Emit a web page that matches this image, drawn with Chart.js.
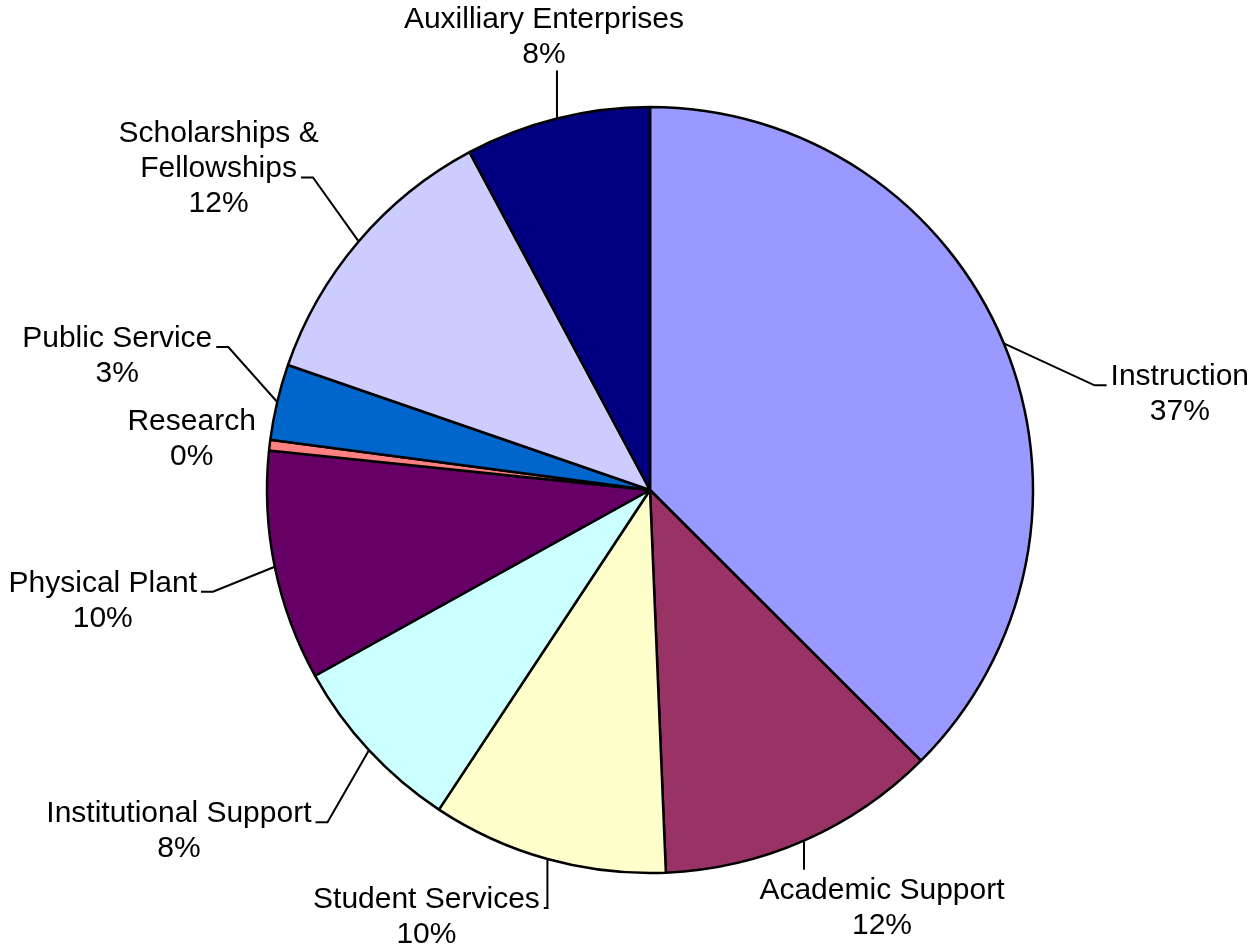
<!DOCTYPE html>
<html><head><meta charset="utf-8">
<script src="https://cdn.jsdelivr.net/npm/chart.js@4.4.1/dist/chart.umd.min.js"></script>
<style>html,body{margin:0;padding:0;background:#fff;} #wrap{width:1254px;height:949px;position:relative;}</style>
</head><body><div id="wrap"><canvas id="c" width="1254" height="949"></canvas></div>
<script>
const categories = ['Instruction', 'Academic Support', 'Student Services', 'Institutional Support', 'Physical Plant', 'Research', 'Public Service', 'Scholarships & Fellowships', 'Auxilliary Enterprises'];
const labelLines = [['Instruction'], ['Academic Support'], ['Student Services'], ['Institutional Support'], ['Physical Plant'], ['Research'], ['Public Service'], ['Scholarships &', 'Fellowships'], ['Auxilliary Enterprises']];
const shares = [37.49, 11.85, 9.95, 7.65, 9.7, 0.45, 3.2, 11.9, 7.81];
const colors = ['#9999FF', '#993366', '#FFFFCC', '#CCFFFF', '#660066', '#FF8080', '#0066CC', '#CCCCFF', '#000080'];
// label placement: offset of each text block (center x, first baseline) from its slice's rim midpoint
const labelOffsets = [[176, 42], [78, 58], [-121, 49], [-190, 72], [-172, 25], [-78, -15], [-160, -55], [-140, -99], [-13, -90]];

const labelPlugin = {
  id: 'pieLabels',
  afterDatasetsDraw(chart) {
    const ctx = chart.ctx;
    const meta = chart.getDatasetMeta(0);
    const data = chart.data.datasets[0].data;
    const total = data.reduce((a, b) => a + b, 0);
    const FONT = 30, LH = 35, ASC = 22;
    ctx.save();
    ctx.font = FONT + 'px "Liberation Sans", Arial, sans-serif';
    ctx.fillStyle = '#000'; ctx.strokeStyle = '#000'; ctx.lineWidth = 2;
    meta.data.forEach((arc, i) => {
      const p = arc.getProps(['x', 'y', 'startAngle', 'endAngle', 'outerRadius'], true);
      const mid = (p.startAngle + p.endAngle) / 2;
      const rx = p.x + Math.cos(mid) * p.outerRadius;
      const ry = p.y + Math.sin(mid) * p.outerRadius;
      const lines = labelLines[i].concat([Math.round(data[i] / total * 100) + '%']);
      const cx = rx + labelOffsets[i][0];
      const b1 = ry + labelOffsets[i][1];
      const widths = lines.map(t => ctx.measureText(t).width);
      const w = Math.max(...widths);
      const left = cx - w / 2, right = cx + w / 2, top = b1 - ASC, bottom = b1 + LH * (lines.length - 1);
      const dx = rx < left ? left - rx : (rx > right ? rx - right : 0);
      const dy = ry < top ? top - ry : (ry > bottom ? ry - bottom : 0);
      if (Math.hypot(dx, dy) > 20) {
        ctx.beginPath();
        if (rx >= left && rx <= right) {
          const ey = ry < top ? top - 7 : bottom + 7;
          ctx.moveTo(rx, ry); ctx.lineTo(rx, ey);
        } else {
          const k = lines.length - 2;
          const ay = b1 + LH * k;
          const side = rx < left ? -1 : 1;
          const ax = side < 0 ? cx - widths[k] / 2 - 4 : cx + widths[k] / 2 + 4;
          const tx = ax + side * Math.min(12, Math.abs(rx - ax));
          ctx.moveTo(ax, ay); ctx.lineTo(tx, ay); ctx.lineTo(rx, ry);
        }
        ctx.stroke();
      }
      ctx.textAlign = 'center'; ctx.textBaseline = 'alphabetic';
      lines.forEach((t, k) => ctx.fillText(t, cx, b1 + k * LH));
    });
    ctx.restore();
  }
};

new Chart(document.getElementById('c'), {
  type: 'pie',
  data: {
    labels: categories,
    datasets: [{
      data: shares,
      backgroundColor: colors,
      borderColor: '#000',
      borderWidth: 2.5,
      radius: 383,
      hoverOffset: 0,
      offset: 0
    }]
  },
  options: {
    responsive: false,
    animation: false,
    layout: { padding: { left: 266, right: 220, top: 106, bottom: 75 } },
    plugins: { legend: { display: false }, tooltip: { enabled: false } },
    events: []
  },
  plugins: [labelPlugin]
});
</script>
</body></html>
